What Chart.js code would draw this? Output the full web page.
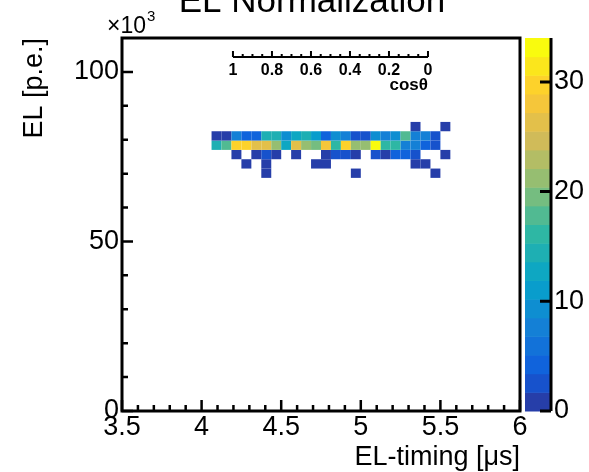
<!DOCTYPE html>
<html>
<head>
<meta charset="utf-8">
<script src="https://cdn.jsdelivr.net/npm/chart.js@4/dist/chart.umd.min.js"></script>
<style>
html,body{margin:0;padding:0;background:#fff;overflow:hidden}
#wrap{width:589px;height:472px;position:relative}
</style>
</head>
<body>
<div id="wrap"><canvas id="c" width="589" height="472"></canvas></div>
<script>
const FONT = '"Liberation Sans", Arial, Helvetica, sans-serif';

// ---- texts ----
const chartTitle = 'EL Normalization';
const xTitle = 'EL-timing [\u03bcs]';
const yTitle = 'EL [p.e.]';
const yExponent = '\u00d710';
const yExponentPower = '3';
const cosTitle = 'cos\u03b8';

// ---- axes ----
const xMin = 3.5, xMax = 6;
const yMin = 0, yMax = 110;
const zMin = 0, zMax = 34;
const xTickValues = [3.5, 4, 4.5, 5, 5.5, 6];
const xTickLabels = ['3.5', '4', '4.5', '5', '5.5', '6'];
const yTickValues = [0, 50, 100];
const yTickLabels = ['0', '50', '100'];
const zTickValues = [0, 10, 20, 30];
const zTickLabels = ['0', '10', '20', '30'];
const cosTickValues = [1, 0.8, 0.6, 0.4, 0.2, 0];
const cosTickLabels = ['1', '0.8', '0.6', '0.4', '0.2', '0'];
// secondary cos(theta) axis drawn inside the frame (in EL-timing / EL units)
const cosAxisStart = 4.197;   // where cos = 1
const cosAxisEnd = 5.422;     // where cos = 0
const cosAxisEL = 104.4;

// ---- histogram bins (x 40 bins 3.5-6, y 40 bins 0-110) ----
const timingBinWidth = 0.0625;
const elBinWidth = 2.75;
const timingBins = [4.09375, 4.15625, 4.21875, 4.28125, 4.34375, 4.40625, 4.46875, 4.53125,
                    4.59375, 4.65625, 4.71875, 4.78125, 4.84375, 4.90625, 4.96875, 5.03125,
                    5.09375, 5.15625, 5.21875, 5.28125, 5.34375, 5.40625, 5.46875, 5.53125];
const elBins = [70.125, 72.875, 75.625, 78.375, 81.125, 83.875];

// counts per EL row (columns follow timingBins)
const countsEL70 = [0,0,0,0,0,1,0,0,0,0,0,0,0,0,1,0,0,0,0,0,0,0,1,0];
const countsEL73 = [0,0,0,1,0,1,0,0,0,0,1,1,0,0,0,0,0,0,0,0,1,1,0,0];
const countsEL76 = [0,0,1,0,1,3,1,0,1,0,0,1,3,3,1,0,3,1,4,4,3,0,0,1];
const countsEL78 = [14,18,30,30,26,26,22,13,26,22,20,28,16,30,22,22,34,16,16,8,8,4,3,0];
const countsEL81 = [1,1,8,4,4,14,14,9,13,14,11,4,9,8,3,3,9,8,9,18,8,8,3,0];
const countsEL84 = [0,0,0,0,0,0,0,0,0,0,0,0,0,0,0,0,0,0,0,0,1,0,0,1];
const countRows = [countsEL70, countsEL73, countsEL76, countsEL78, countsEL81, countsEL84];

// ---- palette (ROOT kBird, 20 contour levels) ----
const nContours = 20;
const birdStops = [0, 0.125, 0.25, 0.375, 0.5, 0.625, 0.75, 0.875, 1];
const birdR = [0.2082, 0.0592, 0.0780, 0.0232, 0.1802, 0.5301, 0.8186, 0.9956, 0.9764];
const birdG = [0.1664, 0.3599, 0.5041, 0.6419, 0.7178, 0.7492, 0.7328, 0.7862, 0.9832];
const birdB = [0.5293, 0.8684, 0.8385, 0.7914, 0.6425, 0.4662, 0.3499, 0.1968, 0.0539];
function bird(f) {
  f = Math.max(0, Math.min(1, f));
  let i = 0;
  while (i < birdStops.length - 2 && f > birdStops[i + 1]) i++;
  const t = (f - birdStops[i]) / (birdStops[i + 1] - birdStops[i]);
  const c = a => Math.round(255 * (a[i] + t * (a[i + 1] - a[i])));
  return 'rgb(' + c(birdR) + ',' + c(birdG) + ',' + c(birdB) + ')';
}
function bandColor(b) { return bird((b + 0.99) / nContours); }
function colorFor(v) {
  let b = Math.floor((v - zMin) / ((zMax - zMin) / nContours) + 1e-9);
  b = Math.max(0, Math.min(nContours - 1, b));
  return bandColor(b);
}

const cells = [];
countRows.forEach((row, r) => row.forEach((v, c) => {
  if (v > 0) cells.push({x: timingBins[c], y: elBins[r], v: v});
}));

function labelFrom(values, labels) {
  return function (value) {
    const i = values.findIndex(t => Math.abs(t - value) < 1e-9);
    return i >= 0 ? labels[i] : '';
  };
}

const rootPlugin = {
  id: 'rootStyle',
  beforeDatasetsDraw(chart) {
    const {ctx, scales: {x, y}} = chart;
    ctx.save();
    chart.data.datasets[0].data.forEach(p => {
      const x0 = x.getPixelForValue(p.x - timingBinWidth / 2);
      const x1 = x.getPixelForValue(p.x + timingBinWidth / 2);
      const y0 = y.getPixelForValue(p.y + elBinWidth / 2);
      const y1 = y.getPixelForValue(p.y - elBinWidth / 2);
      ctx.fillStyle = colorFor(p.v);
      ctx.fillRect(x0, y0, x1 - x0, y1 - y0);
    });
    ctx.restore();
  },
  afterDraw(chart) {
    const {ctx, chartArea: a, scales: {x, y, z}} = chart;
    ctx.save();
    ctx.strokeStyle = '#000';
    ctx.fillStyle = '#000';
    // x / y ticks (inward)
    ctx.lineWidth = 2.5;
    ctx.beginPath();
    for (let i = 0; i <= 25; i++) {
      const px = x.getPixelForValue(xMin + i * 0.1);
      const len = (i % 5 === 0) ? 11 : 6;
      ctx.moveTo(px, a.bottom);
      ctx.lineTo(px, a.bottom - len);
    }
    for (let i = 0; i <= 10; i++) {
      const py = y.getPixelForValue(yMin + i * 10);
      const len = (i % 5 === 0) ? 11 : 6;
      ctx.moveTo(a.left, py);
      ctx.lineTo(a.left + len, py);
    }
    ctx.stroke();
    // frame
    ctx.lineWidth = 3;
    ctx.strokeRect(a.left, a.top, a.right - a.left, a.bottom - a.top);

    // colour bar
    const cbL = z.left + 5, cbR = z.left + 31;
    for (let i = 0; i < nContours; i++) {
      const yt = z.getPixelForValue(zMin + (i + 1) * (zMax - zMin) / nContours);
      const yb = z.getPixelForValue(zMin + i * (zMax - zMin) / nContours);
      ctx.fillStyle = bandColor(i);
      ctx.fillRect(cbL, yt, cbR - cbL, yb - yt + 0.5);
    }
    ctx.lineWidth = 3;
    ctx.beginPath();
    ctx.moveTo(cbR, z.top);
    ctx.lineTo(cbR, z.bottom);
    zTickValues.forEach(v => {
      const py = z.getPixelForValue(v);
      ctx.moveTo(cbR, py);
      ctx.lineTo(cbR - 11, py);
    });
    ctx.stroke();

    // cos(theta) axis inside the frame
    const cy = y.getPixelForValue(cosAxisEL);
    const cx = c => x.getPixelForValue(cosAxisEnd + c * (cosAxisStart - cosAxisEnd));
    ctx.lineWidth = 2;
    ctx.beginPath();
    ctx.moveTo(cx(1), cy);
    ctx.lineTo(cx(0), cy);
    for (let i = 0; i <= 20; i++) {
      const px = cx(i * 0.05);
      const len = (i % 4 === 0) ? 6 : 3;
      ctx.moveTo(px, cy);
      ctx.lineTo(px, cy - len);
    }
    ctx.stroke();
    ctx.fillStyle = '#000';
    ctx.font = 'bold 16px ' + FONT;
    ctx.textAlign = 'center';
    ctx.textBaseline = 'middle';
    cosTickValues.forEach((v, i) => ctx.fillText(cosTickLabels[i], cx(v), cy + 14));
    ctx.font = 'bold 17px ' + FONT;
    ctx.textAlign = 'right';
    ctx.textBaseline = 'alphabetic';
    ctx.fillText(cosTitle, cx(0), cy + 33);

    // title (mostly above the canvas edge)
    ctx.font = '35px ' + FONT;
    ctx.textAlign = 'center';
    ctx.textBaseline = 'alphabetic';
    ctx.fillText(chartTitle, 312, 12);

    // x10^3
    ctx.font = '23px ' + FONT;
    ctx.textAlign = 'left';
    ctx.fillText(yExponent, a.left - 15, 33);
    const w = ctx.measureText(yExponent).width;
    ctx.font = '15px ' + FONT;
    ctx.fillText(yExponentPower, a.left - 15 + w + 1, 21);
    ctx.restore();
  }
};

new Chart(document.getElementById('c').getContext('2d'), {
  type: 'scatter',
  data: {datasets: [{data: cells, pointRadius: 0, pointHoverRadius: 0, xAxisID: 'x', yAxisID: 'y'}]},
  options: {
    responsive: false,
    animation: false,
    events: [],
    layout: {padding: {left: 0, right: 0, top: 38, bottom: 0}},
    plugins: {legend: {display: false}, tooltip: {enabled: false}, title: {display: false}},
    scales: {
      x: {
        type: 'linear', position: 'bottom', min: xMin, max: xMax,
        afterBuildTicks: s => { s.ticks = xTickValues.map(v => ({value: v})); },
        afterFit: s => { s.height = 61; },
        grid: {display: false, drawTicks: false},
        border: {display: false},
        ticks: {font: {family: FONT, size: 27}, color: '#000', padding: 0, maxRotation: 0, autoSkip: false,
                callback: labelFrom(xTickValues, xTickLabels)},
        title: {display: true, text: xTitle, align: 'end', color: '#000',
                font: {family: FONT, size: 27, lineHeight: 1}, padding: {top: 0, bottom: 1}}
      },
      y: {
        type: 'linear', position: 'left', min: yMin, max: yMax,
        afterBuildTicks: s => { s.ticks = yTickValues.map(v => ({value: v})); },
        afterFit: s => { s.width = 122; },
        grid: {display: false, drawTicks: false},
        border: {display: false},
        ticks: {font: {family: FONT, size: 27, lineHeight: 0.25}, color: '#000', padding: 3, autoSkip: false,
                callback: labelFrom(yTickValues, yTickLabels)},
        title: {display: true, text: yTitle, align: 'end', color: '#000',
                font: {family: FONT, size: 27, lineHeight: 1}, padding: {top: 21.5, bottom: 0}}
      },
      z: {
        axis: 'y', type: 'linear', position: 'right', min: zMin, max: zMax,
        afterBuildTicks: s => { s.ticks = zTickValues.map(v => ({value: v})); },
        afterFit: s => { s.width = 69; },
        grid: {display: false, drawTicks: false},
        border: {display: false},
        ticks: {font: {family: FONT, size: 27, lineHeight: 0.25}, color: '#000', padding: 34, autoSkip: false,
                callback: labelFrom(zTickValues, zTickLabels)}
      }
    }
  },
  plugins: [rootPlugin]
});
</script>
</body>
</html>
